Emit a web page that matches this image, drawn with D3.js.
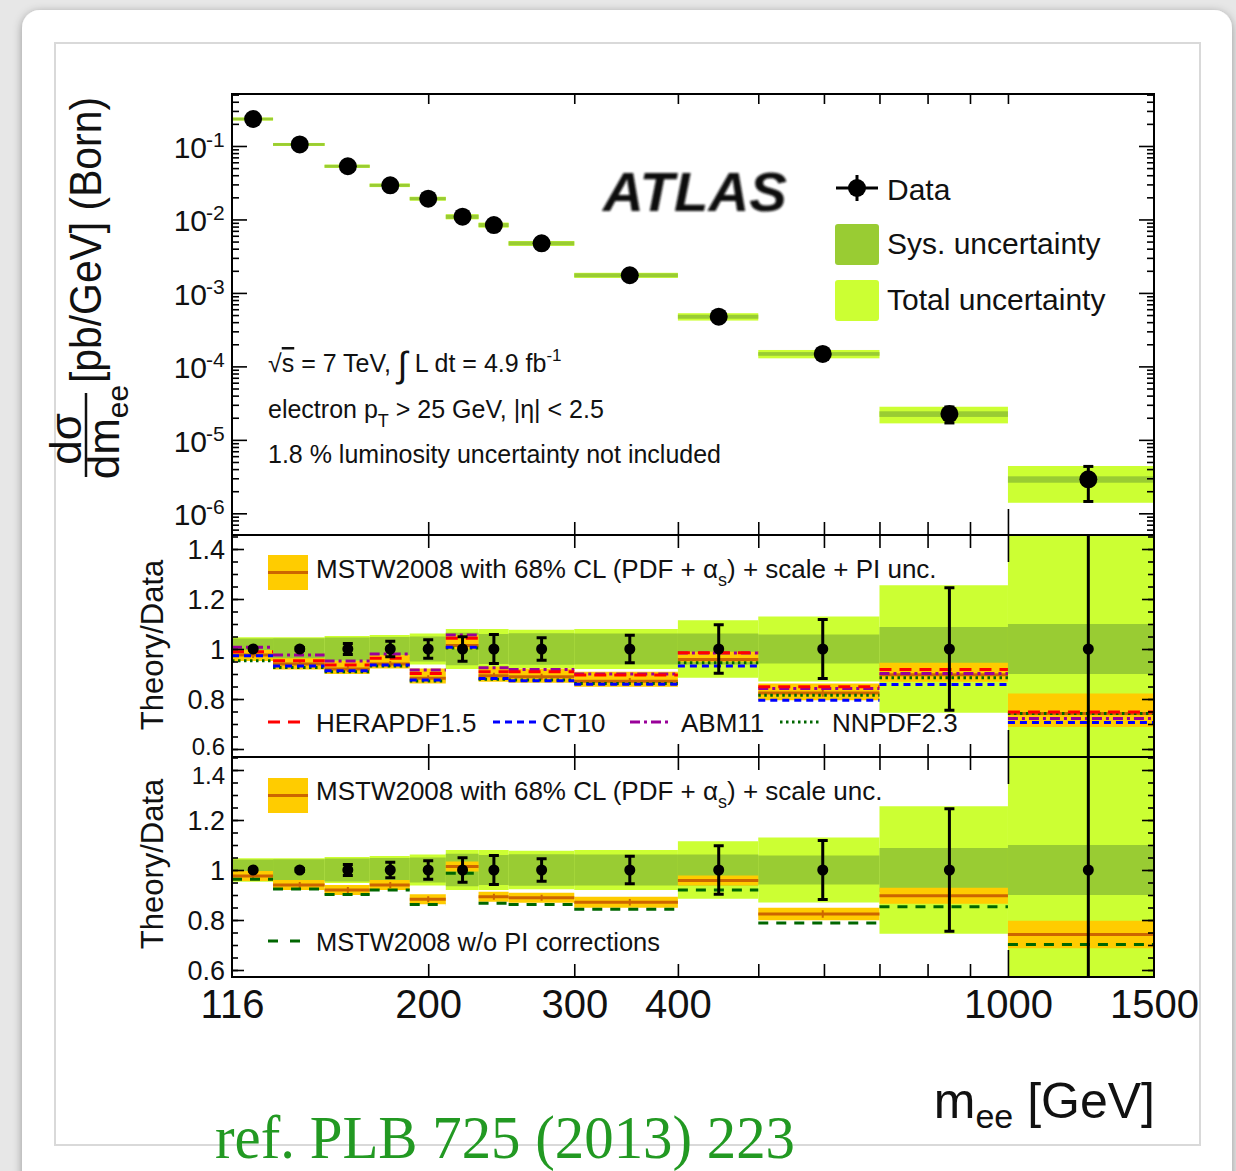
<!DOCTYPE html>
<html>
<head>
<meta charset="utf-8">
<script src="https://cdnjs.cloudflare.com/ajax/libs/d3/7.8.5/d3.min.js"></script>
<style>
  body { margin: 0; background: #e6e6e6; }
  svg text { font-family: "Liberation Sans", Arial, Helvetica, sans-serif; fill: #111; }
</style>
</head>
<body>
<div id="chart"></div>
<script>
// ---- data ----
var BIN_EDGES   = [116, 130, 150, 170, 190, 210, 230, 250, 300, 400, 500, 700, 1000, 1500];
var MASS_POINTS = [123, 140, 160, 180, 200, 220, 240, 274, 350, 448, 598, 850, 1250];
var XSEC        = [0.233, 0.105, 0.053, 0.0292, 0.0192, 0.0109, 0.0084, 0.00473, 0.00174, 4.75e-4, 1.48e-4, 2.25e-5, 2.9e-6];
var STAT_UNC    = [0.004, 0.006, 0.022, 0.031, 0.037, 0.049, 0.058, 0.045, 0.055, 0.097, 0.118, 0.245, 0.50];
var SYS_UNC     = [0.042, 0.043, 0.046, 0.048, 0.050, 0.065, 0.060, 0.063, 0.062, 0.062, 0.058, 0.088, 0.100];
var TOTAL_UNC   = [0.047, 0.047, 0.052, 0.056, 0.062, 0.080, 0.080, 0.077, 0.080, 0.115, 0.130, 0.255, 0.520];

var MSTW        = [0.976, 0.940, 0.920, 0.940, 0.883, 1.014, 0.893, 0.889, 0.871, 0.958, 0.824, 0.897, 0.742];
var MSTW_ERR    = [0.020, 0.020, 0.020, 0.020, 0.020, 0.020, 0.020, 0.020, 0.022, 0.020, 0.025, 0.032, 0.055];
var MSTW_PI_LO  = [0.952, 0.918, 0.900, 0.922, 0.862, 0.999, 0.869, 0.865, 0.849, 0.949, 0.795, 0.869, 0.688];
var MSTW_PI_HI  = [0.996, 0.963, 0.952, 0.976, 0.922, 1.056, 0.929, 0.922, 0.909, 0.989, 0.862, 0.945, 0.822];
var HERAPDF     = [0.989, 0.953, 0.936, 0.963, 0.902, 1.043, 0.909, 0.909, 0.896, 0.985, 0.849, 0.918, 0.748];
var CT10        = [0.973, 0.932, 0.913, 0.936, 0.876, 1.007, 0.882, 0.873, 0.859, 0.932, 0.795, 0.858, 0.706];
var ABM11       = [1.007, 0.976, 0.952, 0.980, 0.916, 1.056, 0.925, 0.918, 0.900, 0.984, 0.842, 0.902, 0.722];
var NNPDF       = [0.953, 0.926, 0.909, 0.932, 0.872, 1.004, 0.879, 0.876, 0.862, 0.945, 0.815, 0.885, 0.742];
var MSTW_NO_PI  = [0.963, 0.924, 0.902, 0.920, 0.862, 0.987, 0.867, 0.862, 0.843, 0.920, 0.788, 0.853, 0.702];

var X_TICK_LABELS = [116, 200, 300, 400, 1000, 1500];
var X_MINOR_TICKS = [200, 300, 400, 500, 600, 700, 800, 900, 1000];
var TOP_Y_EXPONENTS = [-1, -2, -3, -4, -5, -6];
var RATIO_LABELS = [0.6, 0.8, 1, 1.2, 1.4];

// ---- layout & colours ----
var PLOT_LEFT = 232, PLOT_RIGHT = 1154;
var TOP_Y0 = 94, TOP_Y1 = 535, MID_Y1 = 757, BOT_Y1 = 977;
var TOTAL_COL = "#ccff33", SYS_COL = "#99cc33";
var MSTW_BAND_COL = "#ffcc00", MSTW_LINE_COL = "#cc6600";

var x = d3.scaleLog().domain([116, 1500]).range([PLOT_LEFT, PLOT_RIGHT]);
var yTop = d3.scaleLog().domain([5.07e-7, 0.51]).range([TOP_Y1, TOP_Y0]);
var yMid = d3.scaleLinear().domain([0.568, 1.456]).range([MID_Y1, TOP_Y1]);
var yBot = d3.scaleLinear().domain([0.572, 1.452]).range([BOT_Y1, MID_Y1]);

var bins = d3.range(MASS_POINTS.length).map(function(i) {
  return {
    lo: BIN_EDGES[i], hi: BIN_EDGES[i + 1], m: MASS_POINTS[i],
    xs: XSEC[i], stat: STAT_UNC[i], sys: SYS_UNC[i], tot: TOTAL_UNC[i],
    mstw: MSTW[i], mstwErr: MSTW_ERR[i], piLo: MSTW_PI_LO[i], piHi: MSTW_PI_HI[i],
    hera: HERAPDF[i], ct10: CT10[i], abm: ABM11[i], nnpdf: NNPDF[i], noPI: MSTW_NO_PI[i]
  };
});

var svg = d3.select("#chart").append("svg")
  .attr("width", 1236)
  .attr("height", 1171);

var defs = svg.append("defs");
var shadow = defs.append("filter").attr("id", "cardShadow")
  .attr("x", "-5%").attr("y", "-5%").attr("width", "110%").attr("height", "110%");
shadow.append("feDropShadow").attr("dx", 0).attr("dy", 2).attr("stdDeviation", 5)
  .attr("flood-color", "#000").attr("flood-opacity", 0.35);
defs.append("filter").attr("id", "blurAtlas")
  .append("feGaussianBlur").attr("stdDeviation", 1.3);

[["clipTop", TOP_Y0, TOP_Y1], ["clipMid", TOP_Y1, MID_Y1], ["clipBot", MID_Y1, BOT_Y1]].forEach(function(c) {
  defs.append("clipPath").attr("id", c[0]).append("rect")
    .attr("x", PLOT_LEFT).attr("y", c[1])
    .attr("width", PLOT_RIGHT - PLOT_LEFT).attr("height", c[2] - c[1]);
});

drawBackground();
drawTopPanel();
drawRatioPanel(yMid, "clipMid", true);
drawRatioPanel(yBot, "clipBot", false);
drawFrames();
drawTicks();
drawTexts();

function drawBackground() {
  svg.append("rect").attr("width", 1236).attr("height", 1171).attr("fill", "#e7e7e7");
  svg.append("rect")
    .attr("x", 22).attr("y", 10).attr("width", 1210).attr("height", 1200).attr("rx", 18)
    .attr("fill", "#fff")
    .attr("filter", "url(#cardShadow)");
  svg.append("rect")
    .attr("x", 55).attr("y", 43).attr("width", 1145).attr("height", 1102)
    .attr("fill", "none").attr("stroke", "#d9d9d9").attr("stroke-width", 2);
}

function drawTopPanel() {
  var g = svg.append("g").attr("clip-path", "url(#clipTop)");

  g.selectAll("rect.tot").data(bins).enter().append("rect")
    .attr("class", "tot")
    .attr("x", function(d) { return x(d.lo); })
    .attr("width", function(d) { return x(d.hi) - x(d.lo); })
    .attr("y", function(d) { return yTop(d.xs * (1 + d.tot)); })
    .attr("height", function(d) { return yTop(d.xs * (1 - d.tot)) - yTop(d.xs * (1 + d.tot)); })
    .attr("fill", TOTAL_COL);

  g.selectAll("rect.sys").data(bins).enter().append("rect")
    .attr("class", "sys")
    .attr("x", function(d) { return x(d.lo); })
    .attr("width", function(d) { return x(d.hi) - x(d.lo); })
    .attr("y", function(d) { return yTop(d.xs * (1 + d.sys)); })
    .attr("height", function(d) { return yTop(d.xs * (1 - d.sys)) - yTop(d.xs * (1 + d.sys)); })
    .attr("fill", SYS_COL);

  var pts = g.selectAll("g.pt").data(bins).enter().append("g").attr("class", "pt");
  pts.append("line")
    .attr("x1", function(d) { return x(d.m); })
    .attr("x2", function(d) { return x(d.m); })
    .attr("y1", function(d) { return yTop(d.xs * (1 + d.stat)); })
    .attr("y2", function(d) { return yTop(d.xs * (1 - d.stat)); })
    .attr("stroke", "#000").attr("stroke-width", 3);
  [1, -1].forEach(function(s) {
    pts.append("line")
      .attr("x1", function(d) { return x(d.m) - 5; })
      .attr("x2", function(d) { return x(d.m) + 5; })
      .attr("y1", function(d) { return yTop(d.xs * (1 + s * d.stat)); })
      .attr("y2", function(d) { return yTop(d.xs * (1 + s * d.stat)); })
      .attr("stroke", "#000").attr("stroke-width", 3);
  });
  pts.append("circle")
    .attr("cx", function(d) { return x(d.m); })
    .attr("cy", function(d) { return yTop(d.xs); })
    .attr("r", 9)
    .attr("fill", "#000");
}

function hLines(g, yScale, key, color, dash, width) {
  g.selectAll("line." + key).data(bins).enter().append("line")
    .attr("class", key)
    .attr("x1", function(d) { return x(d.lo); })
    .attr("x2", function(d) { return x(d.hi); })
    .attr("y1", function(d) { return yScale(d[key]); })
    .attr("y2", function(d) { return yScale(d[key]); })
    .attr("stroke", color)
    .attr("stroke-width", width)
    .attr("stroke-dasharray", dash);
}

function drawRatioPanel(yScale, clipId, withPdfs) {
  var g = svg.append("g").attr("clip-path", "url(#" + clipId + ")");

  g.selectAll("rect.tot").data(bins).enter().append("rect")
    .attr("x", function(d) { return x(d.lo); })
    .attr("width", function(d) { return x(d.hi) - x(d.lo); })
    .attr("y", function(d) { return yScale(1 + d.tot); })
    .attr("height", function(d) { return yScale(1 - d.tot) - yScale(1 + d.tot); })
    .attr("fill", TOTAL_COL);

  g.selectAll("rect.sys").data(bins).enter().append("rect")
    .attr("x", function(d) { return x(d.lo); })
    .attr("width", function(d) { return x(d.hi) - x(d.lo); })
    .attr("y", function(d) { return yScale(1 + d.sys); })
    .attr("height", function(d) { return yScale(1 - d.sys) - yScale(1 + d.sys); })
    .attr("fill", SYS_COL);

  // MSTW2008 band
  function bandHi(d) { return withPdfs ? d.piHi : d.mstw + d.mstwErr; }
  function bandLo(d) { return withPdfs ? d.piLo : d.mstw - d.mstwErr; }
  g.selectAll("rect.mstw").data(bins).enter().append("rect")
    .attr("x", function(d) { return x(d.lo); })
    .attr("width", function(d) { return x(d.hi) - x(d.lo); })
    .attr("y", function(d) { return yScale(bandHi(d)); })
    .attr("height", function(d) { return yScale(bandLo(d)) - yScale(bandHi(d)); })
    .attr("fill", MSTW_BAND_COL);
  hLines(g, yScale, "mstw", MSTW_LINE_COL, null, 3);
  g.selectAll("line.mstwStat").data(bins).enter().append("line")
    .attr("x1", function(d) { return x(d.m); })
    .attr("x2", function(d) { return x(d.m); })
    .attr("y1", function(d) { return yScale(d.mstw + d.mstwErr * 0.6); })
    .attr("y2", function(d) { return yScale(d.mstw - d.mstwErr * 0.6); })
    .attr("stroke", MSTW_LINE_COL).attr("stroke-width", 2);

  if (withPdfs) {
    hLines(g, yScale, "nnpdf", "#006600", "2.5,3.5", 3);
    hLines(g, yScale, "ct10", "#0000ff", "7,5", 3);
    hLines(g, yScale, "abm", "#990099", "10,4,3,4", 3);
    hLines(g, yScale, "hera", "#ff0000", "12,8", 3);
  } else {
    hLines(g, yScale, "noPI", "#006600", "10,8", 3);
  }

  // data / data = 1 with stat errors
  var pts = g.selectAll("g.pt").data(bins).enter().append("g");
  pts.append("line")
    .attr("x1", function(d) { return x(d.m); })
    .attr("x2", function(d) { return x(d.m); })
    .attr("y1", function(d) { return yScale(1 + d.stat); })
    .attr("y2", function(d) { return yScale(1 - d.stat); })
    .attr("stroke", "#000").attr("stroke-width", 3);
  [1, -1].forEach(function(s) {
    pts.append("line")
      .attr("x1", function(d) { return x(d.m) - 5; })
      .attr("x2", function(d) { return x(d.m) + 5; })
      .attr("y1", function(d) { return yScale(1 + s * d.stat); })
      .attr("y2", function(d) { return yScale(1 + s * d.stat); })
      .attr("stroke", "#000").attr("stroke-width", 3);
  });
  pts.append("circle")
    .attr("cx", function(d) { return x(d.m); })
    .attr("cy", yScale(1))
    .attr("r", 5.5)
    .attr("fill", "#000");
}

function drawFrames() {
  [[TOP_Y0, TOP_Y1], [TOP_Y1, MID_Y1], [MID_Y1, BOT_Y1]].forEach(function(p) {
    svg.append("rect")
      .attr("x", PLOT_LEFT).attr("y", p[0])
      .attr("width", PLOT_RIGHT - PLOT_LEFT).attr("height", p[1] - p[0])
      .attr("fill", "none").attr("stroke", "#000").attr("stroke-width", 2);
  });
}

function edgeTicks(axis, translate, values, len) {
  var g = svg.append("g")
    .attr("transform", "translate(" + translate[0] + "," + translate[1] + ")")
    .call(axis.tickValues(values).tickSize(-len).tickFormat(""));
  g.select(".domain").remove();
  g.selectAll("line").attr("stroke", "#000").attr("stroke-width", 1.6);
}

function drawTicks() {
  var short = X_MINOR_TICKS.filter(function(v) { return v !== 1000; });
  // top panel
  edgeTicks(d3.axisTop(x), [0, TOP_Y0], X_MINOR_TICKS, 10);
  edgeTicks(d3.axisBottom(x), [0, TOP_Y1], short, 13);
  edgeTicks(d3.axisBottom(x), [0, TOP_Y1], [1000], 26);
  // ratio panels
  [[TOP_Y1, MID_Y1], [MID_Y1, BOT_Y1]].forEach(function(p) {
    edgeTicks(d3.axisTop(x), [0, p[0]], short, 13);
    edgeTicks(d3.axisTop(x), [0, p[0]], [1000], 27);
    edgeTicks(d3.axisBottom(x), [0, p[1]], short, 13);
    edgeTicks(d3.axisBottom(x), [0, p[1]], [1000], 27);
  });

  // log ticks for the cross-section axis
  var minorY = [], majorY = [];
  d3.range(-7, 1).forEach(function(e) {
    d3.range(1, 10).forEach(function(m) {
      var v = m * Math.pow(10, e);
      if (v >= yTop.domain()[0] && v <= yTop.domain()[1]) {
        (m === 1 ? majorY : minorY).push(v);
      }
    });
  });
  edgeTicks(d3.axisLeft(yTop), [PLOT_LEFT, 0], majorY, 15);
  edgeTicks(d3.axisLeft(yTop), [PLOT_LEFT, 0], minorY, 7);
  edgeTicks(d3.axisRight(yTop), [PLOT_RIGHT, 0], majorY, 15);
  edgeTicks(d3.axisRight(yTop), [PLOT_RIGHT, 0], minorY, 7);

  var ratioMinor = d3.range(12, 30).map(function(k) { return k * 0.05; });
  [yMid, yBot].forEach(function(ys) {
    edgeTicks(d3.axisLeft(ys), [PLOT_LEFT, 0], RATIO_LABELS, 12);
    edgeTicks(d3.axisLeft(ys), [PLOT_LEFT, 0], ratioMinor, 6);
    edgeTicks(d3.axisRight(ys), [PLOT_RIGHT, 0], RATIO_LABELS, 12);
    edgeTicks(d3.axisRight(ys), [PLOT_RIGHT, 0], ratioMinor, 6);
  });
}

function drawTexts() {
  // x tick labels
  var xa = svg.append("g")
    .attr("transform", "translate(0," + BOT_Y1 + ")")
    .call(d3.axisBottom(x).tickValues(X_TICK_LABELS).tickFormat(d3.format("d")).tickSize(0).tickPadding(13));
  xa.select(".domain").remove();
  xa.selectAll("text")
    .attr("font-size", 40)
    .attr("font-family", "Liberation Sans, Arial, sans-serif")
    .attr("fill", "#111");

  // top y labels 10^n
  TOP_Y_EXPONENTS.forEach(function(e) {
    svg.append("text")
      .attr("x", 207).attr("y", yTop(Math.pow(10, e)) + 12)
      .attr("text-anchor", "end")
      .attr("font-size", 30)
      .text("10");
    svg.append("text")
      .attr("x", 206).attr("y", yTop(Math.pow(10, e)) + 1)
      .attr("font-size", 21)
      .text("-" + (-e));
  });

  // ratio labels (the 0.6 / 1.4 pair at the panel join is shrunk and nudged apart)
  [[yMid, -4, 0], [yBot, 0, 4]].forEach(function(p) {
    RATIO_LABELS.forEach(function(v) {
      var edge = (v === 0.6 && p[1] !== 0) || (v === 1.4 && p[2] !== 0);
      var shift = v === 0.6 ? p[1] : (v === 1.4 ? p[2] : 0);
      svg.append("text")
        .attr("x", 225).attr("y", p[0](v) + 10 + shift)
        .attr("text-anchor", "end")
        .attr("font-size", edge ? 24 : 27)
        .text(d3.format("")(v));
    });
  });

  // axis titles
  var xt = svg.append("text")
    .attr("x", 1155).attr("y", 1118)
    .attr("text-anchor", "end")
    .attr("font-size", 50);
  xt.append("tspan").text("m");
  xt.append("tspan").attr("font-size", 34).attr("dy", 10).text("ee");
  xt.append("tspan").attr("dy", -10).text(" [GeV]");

  var yt = svg.append("g").attr("transform", "translate(101,435) rotate(-90)");
  yt.append("text").attr("x", -4).attr("y", -20).attr("text-anchor", "middle")
    .attr("font-size", 44).text("dσ");
  yt.append("line").attr("x1", -42).attr("x2", 42).attr("y1", -15).attr("y2", -15)
    .attr("stroke", "#111").attr("stroke-width", 2.5);
  var den = yt.append("text").attr("x", 3).attr("y", 18).attr("text-anchor", "middle")
    .attr("font-size", 44);
  den.append("tspan").text("dm");
  den.append("tspan").attr("font-size", 30).attr("dy", 9).text("ee");
  yt.append("text").attr("x", 52).attr("y", 0)
    .attr("font-size", 44)
    .attr("textLength", 286).attr("lengthAdjust", "spacingAndGlyphs")
    .text("[pb/GeV] (Born)");

  [[yMid, 645], [yBot, 864]].forEach(function(p) {
    svg.append("text")
      .attr("transform", "translate(163," + p[1] + ") rotate(-90)")
      .attr("text-anchor", "middle")
      .attr("font-size", 31)
      .text("Theory/Data");
  });

  // ATLAS
  svg.append("text")
    .attr("x", 603).attr("y", 211)
    .attr("font-size", 56).attr("font-weight", "bold").attr("font-style", "italic")
    .attr("fill", "#1a1a1a")
    .attr("filter", "url(#blurAtlas)")
    .attr("textLength", 184).attr("lengthAdjust", "spacingAndGlyphs")
    .text("ATLAS");

  // top legend
  svg.append("line").attr("x1", 836).attr("x2", 878).attr("y1", 188).attr("y2", 188)
    .attr("stroke", "#000").attr("stroke-width", 3);
  svg.append("line").attr("x1", 857).attr("x2", 857).attr("y1", 175).attr("y2", 201)
    .attr("stroke", "#000").attr("stroke-width", 3);
  svg.append("circle").attr("cx", 857).attr("cy", 188).attr("r", 9).attr("fill", "#000");
  svg.append("rect").attr("x", 835).attr("y", 224).attr("width", 44).attr("height", 41).attr("rx", 3)
    .attr("fill", SYS_COL);
  svg.append("rect").attr("x", 835).attr("y", 280).attr("width", 44).attr("height", 41).attr("rx", 3)
    .attr("fill", TOTAL_COL);
  [["Data", 200], ["Sys. uncertainty", 254], ["Total uncertainty", 310]].forEach(function(l) {
    svg.append("text").attr("x", 887).attr("y", l[1]).attr("font-size", 30).text(l[0]);
  });

  // annotation
  var a1 = svg.append("text").attr("x", 268).attr("y", 372).attr("font-size", 25);
  a1.append("tspan").text("√");
  a1.append("tspan").style("text-decoration", "overline").text("s");
  a1.append("tspan").text(" = 7 TeV, ");
  a1.append("tspan").attr("font-size", 36).attr("dy", 5).text("∫");
  a1.append("tspan").attr("dy", -5).text(" L dt = 4.9 fb");
  a1.append("tspan").attr("font-size", 17).attr("dy", -11).text("-1");
  var a2 = svg.append("text").attr("x", 268).attr("y", 418).attr("font-size", 25);
  a2.append("tspan").text("electron p");
  a2.append("tspan").attr("font-size", 18).attr("dy", 9).text("T");
  a2.append("tspan").attr("dy", -9).text(" > 25 GeV, |η| < 2.5");
  svg.append("text").attr("x", 268).attr("y", 463).attr("font-size", 25)
    .text("1.8 % luminosity uncertainty not included");

  // ratio legends
  [[555, 578, " + scale + PI unc."], [778, 800, " + scale unc."]].forEach(function(l) {
    svg.append("rect").attr("x", 268).attr("y", l[0]).attr("width", 40).attr("height", 35)
      .attr("fill", MSTW_BAND_COL);
    svg.append("line").attr("x1", 268).attr("x2", 308).attr("y1", l[0] + 17.5).attr("y2", l[0] + 17.5)
      .attr("stroke", MSTW_LINE_COL).attr("stroke-width", 3);
    var t = svg.append("text").attr("x", 316).attr("y", l[1]).attr("font-size", 26);
    t.append("tspan").text("MSTW2008 with 68% CL (PDF + α");
    t.append("tspan").attr("font-size", 18).attr("dy", 8).text("s");
    t.append("tspan").attr("dy", -8).text(")" + l[2]);
  });

  var pdfLegend = [
    ["HERAPDF1.5", 268, 300, 316, "#ff0000", "12,8"],
    ["CT10", 493, 536, 542, "#0000ff", "7,5"],
    ["ABM11", 630, 672, 681, "#990099", "10,4,3,4"],
    ["NNPDF2.3", 780, 822, 832, "#006600", "2.5,3.5"]
  ];
  pdfLegend.forEach(function(l) {
    svg.append("line").attr("x1", l[1]).attr("x2", l[2]).attr("y1", 722).attr("y2", 722)
      .attr("stroke", l[4]).attr("stroke-width", 3).attr("stroke-dasharray", l[5]);
    svg.append("text").attr("x", l[3]).attr("y", 732).attr("font-size", 26).text(l[0]);
  });
  svg.append("line").attr("x1", 268).attr("x2", 300).attr("y1", 941).attr("y2", 941)
    .attr("stroke", "#006600").attr("stroke-width", 3).attr("stroke-dasharray", "10,12");
  svg.append("text").attr("x", 316).attr("y", 951).attr("font-size", 26)
    .attr("textLength", 344).attr("lengthAdjust", "spacingAndGlyphs")
    .text("MSTW2008 w/o PI corrections");

  // reference
  svg.append("text")
    .attr("x", 215).attr("y", 1158)
    .attr("font-size", 62)
    .attr("textLength", 580).attr("lengthAdjust", "spacingAndGlyphs")
    .style("font-family", "'Liberation Serif', 'Times New Roman', serif")
    .style("fill", "#229922")
    .text("ref. PLB 725 (2013) 223");
}
</script>
</body>
</html>
